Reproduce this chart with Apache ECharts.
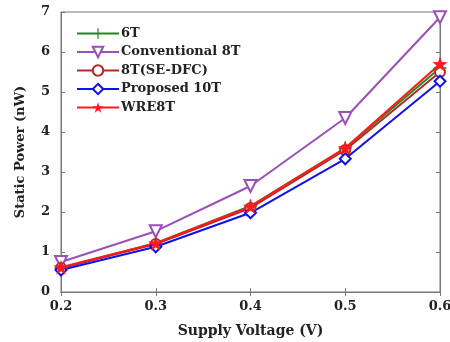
<!DOCTYPE html>
<html><head><meta charset="utf-8">
<script src="https://cdn.jsdelivr.net/npm/echarts@6/dist/echarts.min.js"></script>
<style>html,body{margin:0;padding:0;background:#fff}#c{width:450px;height:342px}</style>
</head><body><div id="c"></div>
<script>
const categories = ['0.2','0.3','0.4','0.5','0.6'];
const yTicks = [0,1,2,3,4,5,6,7];
const s6T = [0.60, 1.22, 2.15, 3.60, 5.60];
const sConv8T = [0.75, 1.52, 2.65, 4.35, 6.87];
const s8TSEDFC = [0.60, 1.20, 2.10, 3.55, 5.50];
const sProp10T = [0.55, 1.13, 1.98, 3.33, 5.27];
const sWRE8T = [0.62, 1.22, 2.14, 3.60, 5.70];

const font = 'DejaVu Serif';
const plus = 'path://M-1.2,-10 L1.2,-10 L1.2,-1.2 L10,-1.2 L10,1.2 L1.2,1.2 L1.2,10 L-1.2,10 L-1.2,1.2 L-10,1.2 L-10,-1.2 L-1.2,-1.2 Z';
const star = 'path://M0,-10 L2.35,-3.24 L9.51,-3.09 L3.8,1.24 L5.88,8.09 L0,4 L-5.88,8.09 L-3.8,1.24 L-9.51,-3.09 L-2.35,-3.24 Z';

function ser(name, data, color, symbol, size, filled) {
  return {
    name, type: 'line', data,
    symbol, symbolSize: size,
    showAllSymbol: true,
    lineStyle: { color, width: 2 },
    itemStyle: filled ? { color, borderColor: color, borderWidth: 0 } : { color: '#fff', borderColor: color, borderWidth: 2 },
    emphasis: { disabled: true }
  };
}

const chart = echarts.init(document.getElementById('c'), null, { renderer: 'canvas' });
chart.setOption({
  animation: false,
  backgroundColor: '#fff',
  grid: { left: 61, right: 10, top: 12, bottom: 50, show: true, borderColor: '#777', borderWidth: 1, containLabel: false, outerBoundsMode: 'none' },
  legend: {
    orient: 'vertical', left: 71, top: 22, itemWidth: 42, itemHeight: 13, itemGap: 5.5,
    textStyle: { fontFamily: font, fontWeight: 'bold', fontSize: 13, color: '#222', padding: [0,0,0,-3] },
    data: ['6T','Conventional 8T','8T(SE-DFC)','Proposed 10T','WRE8T']
  },
  xAxis: [{
    type: 'category', data: categories, boundaryGap: false,
    name: 'Supply Voltage (V)', nameLocation: 'middle', nameGap: 32,
    nameTextStyle: { fontFamily: font, fontWeight: 'bold', fontSize: 14, color: '#222' },
    axisLine: { lineStyle: { color: '#777' } },
    axisTick: { inside: true, length: 4, lineStyle: { color: '#777' } },
    axisLabel: { fontFamily: font, fontWeight: 'bold', fontSize: 13, color: '#222', margin: 8 },
    splitLine: { show: false }
  }, {
    type: 'category', data: categories, boundaryGap: false, position: 'top',
    axisLine: { lineStyle: { color: '#777' } },
    axisTick: { inside: true, length: 4, lineStyle: { color: '#777' } },
    axisLabel: { show: false }, splitLine: { show: false }
  }],
  yAxis: [{
    type: 'value', min: yTicks[0], max: yTicks[yTicks.length-1], interval: 1,
    name: 'Static Power (nW)', nameLocation: 'middle', nameGap: 34,
    nameTextStyle: { fontFamily: font, fontWeight: 'bold', fontSize: 13, color: '#222' },
    axisLine: { show: true, lineStyle: { color: '#777' } },
    axisTick: { show: true, inside: true, length: 4, lineStyle: { color: '#777' } },
    axisLabel: { fontFamily: font, fontWeight: 'bold', fontSize: 13, color: '#222', margin: 11 },
    splitLine: { show: false }
  }, {
    type: 'value', min: yTicks[0], max: yTicks[yTicks.length-1], interval: 1, position: 'right',
    axisLine: { show: true, lineStyle: { color: '#777' } },
    axisTick: { show: true, inside: true, length: 4, lineStyle: { color: '#777' } },
    axisLabel: { show: false }, splitLine: { show: false }
  }],
  series: [
    ser('6T', s6T, '#1e8c1e', plus, 13, true),
    ser('Conventional 8T', sConv8T, '#9b4fb8', 'path://M-10,-8 L10,-8 L0,10 Z', 12, false),
    ser('8T(SE-DFC)', s8TSEDFC, '#b22a2a', 'circle', 10, false),
    ser('Proposed 10T', sProp10T, '#1010f0', 'diamond', 11, false),
    ser('WRE8T', sWRE8T, '#ff1a1a', star, 15, true)
  ]
});
</script></body></html>
